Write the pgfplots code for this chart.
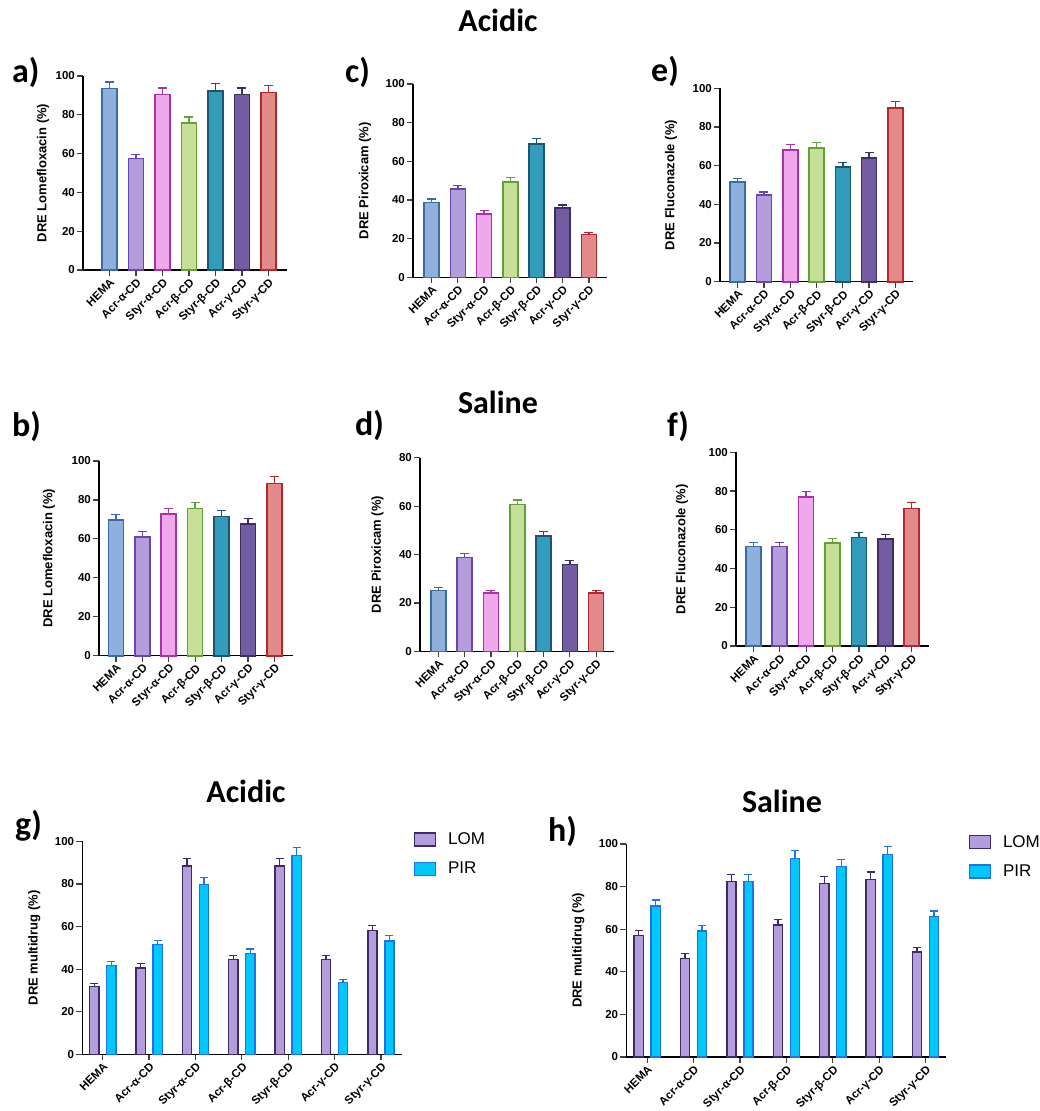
\documentclass[border=0pt]{standalone}
\usepackage{fontspec}
\setmainfont{Liberation Sans}
\newfontfamily\calib{Carlito}
\usepackage{pgfplots}
\pgfplotsset{compat=1.18}

\definecolor{hemaF}{HTML}{8FB0DB}\definecolor{hemaE}{HTML}{3A6BAA}
\definecolor{aaF}{HTML}{B39DDB}\definecolor{aaE}{HTML}{6B44B0}
\definecolor{saF}{HTML}{F0A8EC}\definecolor{saE}{HTML}{A832A8}
\definecolor{abF}{HTML}{C6E09A}\definecolor{abE}{HTML}{63A035}
\definecolor{sbF}{HTML}{339CBB}\definecolor{sbE}{HTML}{1D5570}
\definecolor{agF}{HTML}{745CA3}\definecolor{agE}{HTML}{3D2F62}
\definecolor{sgF}{HTML}{E4898B}\definecolor{sgE}{HTML}{B3282D}
\definecolor{lomF}{HTML}{B39DDB}\definecolor{lomE}{HTML}{3C2A6A}
\definecolor{pirF}{HTML}{00C8FA}\definecolor{pirE}{HTML}{1E74E6}

\pgfplotsset{
  panel/.style={
    scale only axis, ybar, axis lines*=left, ymin=0, enlargelimits=false,
    xtick={0,...,6},
    xticklabels={HEMA,Acr-α-CD,Styr-α-CD,Acr-β-CD,Styr-β-CD,Acr-γ-CD,Styr-γ-CD},
    tick align=outside, major tick length=6pt,
    tick style={black!75, line width=1.2pt},
    axis line style={line width=1.2pt},
    x tick label style={rotate=45, anchor=north east, inner sep=1pt, font=\bfseries\fontsize{11.5}{13}\selectfont},
    y tick label style={font=\bfseries\fontsize{11.5}{13}\selectfont, inner sep=2pt},
    ylabel style={font=\bfseries\fontsize{13}{15}\selectfont, anchor=center},
    /pgf/number format/assume math mode=true,
    clip=false,
  }
}
\newcommand\bb[5]{\addplot[fill=#1, draw=#2, line width=1.6pt, bar width=15pt, bar shift=0pt,
  error bars/.cd, y dir=plus, y explicit,
  error bar style={draw=#2, line width=1.4pt},
  error mark options={rotate=90, draw=#2, mark size=4.5pt, line width=1.4pt}]
  coordinates {(#3,#4) +- (0,#5)};}
\newcommand\seven[7]{%
  \bb{hemaF}{hemaE}{0}#1\bb{aaF}{aaE}{1}#2\bb{saF}{saE}{2}#3\bb{abF}{abE}{3}#4%
  \bb{sbF}{sbE}{4}#5\bb{agF}{agE}{5}#6\bb{sgF}{sgE}{6}#7}

\begin{document}
\begin{tikzpicture}
\useasboundingbox (0,0) rectangle (1040pt,-1111pt);
\clip (0,0) rectangle (1040pt,-1111pt);

% titles
\tikzset{ttl/.style={anchor=base, inner sep=0pt, font=\calib\bfseries\fontsize{32}{36}\selectfont},
         plab/.style={anchor=base west, inner sep=0pt, font=\calib\bfseries\fontsize{34}{38}\selectfont}}
\node[ttl] at (498pt,-31pt) {Acidic};
\node[ttl] at (498pt,-413pt) {Saline};
\node[ttl] at (246pt,-802pt) {Acidic};
\node[ttl] at (782pt,-812pt) {Saline};
\node[plab] at (12pt,-82pt) {a)};
\node[plab] at (345pt,-82pt) {c)};
\node[plab] at (651pt,-81pt) {e)};
\node[plab] at (12pt,-436pt) {b)};
\node[plab] at (355pt,-435pt) {d)};
\node[plab] at (667pt,-436pt) {f)};
\node[plab] at (15pt,-835pt) {g)};
\node[plab] at (548pt,-841pt) {h)};

% a
\begin{axis}[panel, at={(83pt,-270pt)}, anchor=south west, width=204pt, height=194pt,
  xmin=-1, xmax=6.7, ymax=100, ytick={0,20,...,100},
  ylabel={DRE Lomefloxacin (\%)}, ylabel style={at={(axis description cs:-0.196,0.5)}}]
\seven{{93.5}{3.4}}{{57.5}{2.0}}{{90.4}{3.4}}{{75.8}{3.1}}{{92.3}{3.7}}{{90.4}{3.4}}{{91.4}{3.6}}
\end{axis}
% c
\begin{axis}[panel, at={(413pt,-277.3pt)}, anchor=south west, width=194pt, height=193.3pt,
  xmin=-0.71, xmax=6.69, ymax=100, ytick={0,20,...,100},
  ylabel={DRE Piroxicam (\%)}, ylabel style={at={(axis description cs:-0.247,0.5)}}]
\seven{{38.8}{1.7}}{{45.7}{1.7}}{{32.9}{1.6}}{{49.3}{2.3}}{{69.0}{2.7}}{{36.0}{1.4}}{{22.2}{1.1}}
\end{axis}
% e
\begin{axis}[panel, at={(720pt,-281.7pt)}, anchor=south west, width=193pt, height=193.4pt,
  xmin=-0.67, xmax=6.67, ymax=100, ytick={0,20,...,100},
  ylabel={DRE Fluconazole (\%)}, ylabel style={at={(axis description cs:-0.254,0.5)}}]
\seven{{51.4}{2.0}}{{44.7}{1.7}}{{68.1}{2.8}}{{69.0}{2.9}}{{59.3}{2.3}}{{64.1}{2.6}}{{89.7}{3.4}}
\end{axis}
% b
\begin{axis}[panel, at={(99pt,-655.7pt)}, anchor=south west, width=193.7pt, height=194.7pt,
  xmin=-0.64, xmax=6.69, ymax=100, ytick={0,20,...,100},
  ylabel={DRE Lomefloxacin (\%)}, ylabel style={at={(axis description cs:-0.258,0.5)}}]
\seven{{69.7}{2.9}}{{61.1}{2.6}}{{72.8}{2.9}}{{75.7}{3.1}}{{71.6}{3.1}}{{67.8}{2.7}}{{88.4}{3.6}}
\end{axis}
% d
\begin{axis}[panel, at={(420pt,-651.3pt)}, anchor=south west, width=194pt, height=193.6pt,
  xmin=-0.70, xmax=6.68, ymax=80, ytick={0,20,...,80},
  ylabel={DRE Piroxicam (\%)}, ylabel style={at={(axis description cs:-0.219,0.5)}}]
\seven{{25.1}{1.2}}{{38.8}{1.7}}{{24.2}{1.0}}{{60.7}{1.8}}{{47.7}{1.7}}{{35.8}{1.7}}{{24.2}{1.0}}
\end{axis}
% f
\begin{axis}[panel, at={(736pt,-646pt)}, anchor=south west, width=193.3pt, height=193.7pt,
  xmin=-0.66, xmax=6.67, ymax=100, ytick={0,20,...,100},
  ylabel={DRE Fluconazole (\%)}, ylabel style={at={(axis description cs:-0.279,0.5)}}]
\seven{{51.3}{2.1}}{{51.3}{2.1}}{{76.8}{2.9}}{{53.2}{2.2}}{{56.1}{2.4}}{{55.2}{2.5}}{{70.9}{3.1}}
\end{axis}

\pgfplotsset{grp/.style={panel,
  legend cell align=left,
  legend style={draw=none, fill=none, anchor=north west, row sep=12pt, inner sep=0pt,
    font=\fontsize{17}{20}\selectfont, nodes={inner sep=2pt}},
  legend image code/.code={\draw[##1, line width=1.5pt] (0pt,-6.5pt) rectangle (21pt,6.5pt); \path (31pt,0pt);},
  ylabel={DRE multidrug (\%)}, ymax=100, ytick={0,20,...,100}}}
% g
\begin{axis}[grp, at={(82.3pt,-1054.3pt)}, anchor=south west, width=320pt, height=213pt,
  xmin=-0.44, xmax=6.46, ylabel style={at={(axis description cs:-0.15,0.5)}},
  legend style={at={(1.035,1.05)}}]
\addplot[fill=lomF, draw=lomE, line width=1.4pt, bar width=9.3pt, bar shift=-8.5pt,
  error bars/.cd, y dir=plus, y explicit, error bar style={draw=lomE, line width=1.3pt},
  error mark options={rotate=90, draw=lomE, mark size=4pt, line width=1.3pt}]
  coordinates {(0,31.8) +- (0,1.4) (1,40.5) +- (0,2.1) (2,88.4) +- (0,3.5) (3,44.4) +- (0,2.1)
               (4,88.4) +- (0,3.5) (5,44.4) +- (0,2.1) (6,58.1) +- (0,2.5)};
\addplot[fill=pirF, draw=pirE, line width=1.4pt, bar width=9.3pt, bar shift=8.5pt,
  error bars/.cd, y dir=plus, y explicit, error bar style={draw=pirE, line width=1.3pt},
  error mark options={rotate=90, draw=pirE, mark size=4pt, line width=1.3pt}]
  coordinates {(0,41.6) +- (0,1.9) (1,51.5) +- (0,2.0) (2,79.7) +- (0,3.2) (3,47.4) +- (0,2.1)
               (4,93.3) +- (0,3.7) (5,33.8) +- (0,1.4) (6,53.2) +- (0,2.5)};
\legend{LOM,PIR}
\end{axis}
% h
\begin{axis}[grp, at={(626.3pt,-1057pt)}, anchor=south west, width=319.7pt, height=213pt,
  xmin=-0.45, xmax=6.44, ylabel style={at={(axis description cs:-0.15,0.5)}},
  legend style={at={(1.07,1.05)}}]
\addplot[fill=lomF, draw=lomE, line width=1.4pt, bar width=9.3pt, bar shift=-8.5pt,
  error bars/.cd, y dir=plus, y explicit, error bar style={draw=lomE, line width=1.3pt},
  error mark options={rotate=90, draw=lomE, mark size=4pt, line width=1.3pt}]
  coordinates {(0,57.1) +- (0,2.4) (1,46.3) +- (0,2.2) (2,82.5) +- (0,3.3) (3,62.0) +- (0,2.5)
               (4,81.5) +- (0,3.2) (5,83.4) +- (0,3.5) (6,49.3) +- (0,2.0)};
\addplot[fill=pirF, draw=pirE, line width=1.4pt, bar width=9.3pt, bar shift=8.5pt,
  error bars/.cd, y dir=plus, y explicit, error bar style={draw=pirE, line width=1.3pt},
  error mark options={rotate=90, draw=pirE, mark size=4pt, line width=1.3pt}]
  coordinates {(0,70.9) +- (0,2.8) (1,59.2) +- (0,2.5) (2,82.5) +- (0,3.3) (3,93.1) +- (0,3.8)
               (4,89.4) +- (0,3.4) (5,95.1) +- (0,3.6) (6,65.9) +- (0,2.6)};
\legend{LOM,PIR}
\end{axis}
\end{tikzpicture}
\end{document}
